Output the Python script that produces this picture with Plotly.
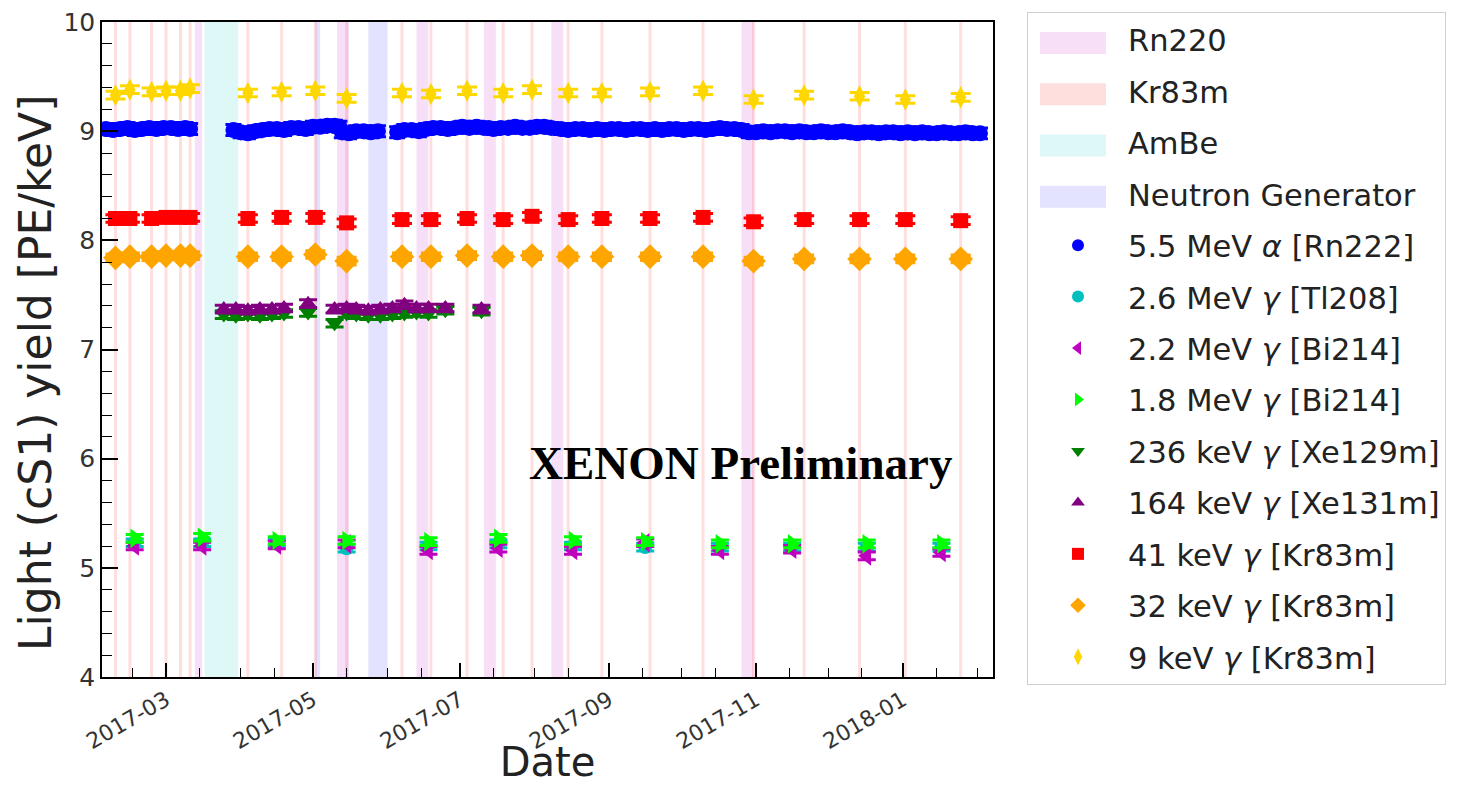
import pandas as pd
import plotly.graph_objects as go

# ---------------- calibration campaigns ----------------
rn220_periods = [("2017-03-13", "2017-03-16"), ("2017-05-11", "2017-05-16"),
                 ("2017-06-13", "2017-06-18"), ("2017-07-11", "2017-07-16"),
                 ("2017-08-08", "2017-08-13"), ("2017-10-26", "2017-10-31")]
ambe_periods = [("2017-03-17", "2017-03-31")]
ng_periods = [("2017-05-02", "2017-05-04"), ("2017-05-24", "2017-06-01")]
kr83m_dates = ["2017-02-08", "2017-02-14", "2017-02-23", "2017-03-01", "2017-03-07",
               "2017-03-11", "2017-04-04", "2017-04-18", "2017-05-02", "2017-05-15",
               "2017-06-07", "2017-06-19", "2017-07-04", "2017-07-19", "2017-07-31",
               "2017-08-15", "2017-08-29", "2017-09-18", "2017-10-10", "2017-10-31",
               "2017-11-21", "2017-12-14", "2018-01-02", "2018-01-25"]

# ---------------- Kr83m lines (measured at each Kr83m calibration) ----------------
kr_9kev = [9.33, 9.38, 9.36, 9.37, 9.37, 9.39, 9.35, 9.36, 9.37, 9.30, 9.35, 9.34,
           9.37, 9.35, 9.38, 9.35, 9.35, 9.36, 9.37, 9.29, 9.33, 9.32, 9.29, 9.31]
kr_41kev = [8.20, 8.20, 8.20, 8.21, 8.21, 8.21, 8.20, 8.21, 8.21, 8.16, 8.19, 8.19,
            8.20, 8.19, 8.22, 8.19, 8.20, 8.20, 8.21, 8.17, 8.19, 8.19, 8.19, 8.18]
kr_32kev = [7.84, 7.85, 7.85, 7.86, 7.86, 7.86, 7.85, 7.85, 7.87, 7.81, 7.85, 7.85,
            7.86, 7.85, 7.86, 7.85, 7.85, 7.85, 7.85, 7.81, 7.83, 7.83, 7.83, 7.83]

# ---------------- Rn222 alpha line ----------------
rn222_dates = [
    "2017-02-04", "2017-02-07", "2017-02-10", "2017-02-13", "2017-02-16", "2017-02-19",
    "2017-02-22", "2017-02-25", "2017-02-28", "2017-03-03", "2017-03-06", "2017-03-09",
    "2017-03-11", None,
    "2017-03-29", "2017-04-01", "2017-04-04", "2017-04-07", "2017-04-10", "2017-04-13",
    "2017-04-16", "2017-04-19", "2017-04-22", "2017-04-25", "2017-04-28", "2017-05-01",
    "2017-05-04", "2017-05-07", "2017-05-10", "2017-05-12",
    "2017-05-13", "2017-05-16", "2017-05-19", "2017-05-22", "2017-05-25", "2017-05-28",
    "2017-06-05", "2017-06-08", "2017-06-11", "2017-06-14",
    "2017-06-17", "2017-06-20", "2017-06-23", "2017-06-26", "2017-06-29", "2017-07-02",
    "2017-07-05", "2017-07-08", "2017-07-11", "2017-07-13",
    "2017-07-15", "2017-07-18", "2017-07-21", "2017-07-24", "2017-07-27", "2017-07-30",
    "2017-08-02", "2017-08-05", "2017-08-08",
    "2017-08-12", "2017-08-15", "2017-08-18", "2017-08-21", "2017-08-24", "2017-08-27",
    "2017-08-30", "2017-09-02", "2017-09-05", "2017-09-08", "2017-09-11", "2017-09-14",
    "2017-09-17", "2017-09-20", "2017-09-23", "2017-09-26", "2017-09-29", "2017-10-02",
    "2017-10-05", "2017-10-08", "2017-10-11", "2017-10-14", "2017-10-17", "2017-10-20",
    "2017-10-23", "2017-10-26",
    "2017-10-29", "2017-11-01", "2017-11-04", "2017-11-07", "2017-11-10", "2017-11-13",
    "2017-11-16", "2017-11-19", "2017-11-22", "2017-11-25", "2017-11-28", "2017-12-01",
    "2017-12-04", "2017-12-07", "2017-12-10", "2017-12-13", "2017-12-16", "2017-12-19",
    "2017-12-22", "2017-12-25", "2017-12-28", "2017-12-31", "2018-01-03", "2018-01-06",
    "2018-01-09", "2018-01-12", "2018-01-15", "2018-01-18", "2018-01-21", "2018-01-24",
    "2018-01-27", "2018-01-30", "2018-02-02"]
rn222_vals = [
    9.02, 9.01, 9.02, 9.03, 9.01, 9.02, 9.03, 9.02, 9.03, 9.03, 9.02, 9.03, 9.02, None,
    9.01, 8.99, 8.98, 9.00, 9.01, 9.02, 9.02, 9.01, 9.03, 9.03, 9.02, 9.04, 9.04, 9.05,
    9.05, 9.04,
    8.99, 8.98, 9.00, 9.00, 8.99, 9.00,
    8.99, 9.01, 9.01, 9.00,
    9.02, 9.03, 9.03, 9.02, 9.03, 9.04, 9.03, 9.04, 9.03, 9.03,
    9.02, 9.03, 9.03, 9.04, 9.03, 9.03, 9.04, 9.04, 9.03,
    9.02, 9.01, 9.02, 9.02, 9.01, 9.02, 9.01, 9.02, 9.02, 9.01, 9.02, 9.02, 9.01, 9.02,
    9.01, 9.02, 9.02, 9.01, 9.02, 9.02, 9.01, 9.02, 9.03, 9.02, 9.02, 9.01,
    8.99, 8.99, 9.00, 8.99, 9.00, 9.00, 8.99, 9.00, 8.99, 8.99, 9.00, 8.99, 8.99, 9.00,
    8.99, 8.98, 8.99, 8.99, 8.98, 8.99, 8.99, 8.98, 8.99, 8.98, 8.99, 8.98, 8.98, 8.99,
    8.98, 8.98, 8.99, 8.98, 8.98]

# ---------------- high-energy gamma lines ----------------
he_dates = ["2017-02-16", "2017-03-16", "2017-04-16", "2017-05-15", "2017-06-18",
            "2017-07-17", "2017-08-17", "2017-09-16", "2017-10-17", "2017-11-16",
            "2017-12-17", "2018-01-17"]
tl208_26mev = [5.23, 5.23, 5.23, 5.18, 5.20, 5.22, 5.20, 5.19, 5.19, 5.19, 5.19, 5.19]
bi214_22mev = [5.20, 5.20, 5.21, 5.22, 5.16, 5.18, 5.16, 5.23, 5.16, 5.17, 5.11, 5.14]
bi214_18mev = [5.27, 5.28, 5.25, 5.25, 5.24, 5.27, 5.25, 5.24, 5.22, 5.22, 5.22, 5.22]

# ---------------- activated xenon lines ----------------
xe_dates = ["2017-03-25", "2017-03-30", "2017-04-04", "2017-04-09", "2017-04-14",
            "2017-04-19", "2017-04-29", "2017-05-10", "2017-05-15", "2017-05-19",
            "2017-05-24", "2017-05-29", "2017-06-03", "2017-06-08", "2017-06-13",
            "2017-06-18", "2017-06-25", "2017-07-10"]
xe129m_236kev = [7.32, 7.31, 7.32, 7.31, 7.32, 7.33, 7.34, 7.24, 7.33, 7.32, 7.31,
                 7.31, 7.32, 7.33, 7.34, 7.33, 7.36, 7.35]
xe131m_164kev = [7.37, 7.37, 7.36, 7.37, 7.37, 7.38, 7.42, 7.37, 7.38, 7.37, 7.36,
                 7.37, 7.38, 7.41, 7.38, 7.38, 7.38, 7.37]

# statistical uncertainties (PE/keV)
err_rn222 = 0.05
err_line = 0.035

Y_MIN, Y_MAX = 4, 10
major_ticks = ["2017-03-01", "2017-05-01", "2017-07-01", "2017-09-01", "2017-11-01", "2018-01-01"]

# band colours
C_RN220 = "rgba(191,0,191,0.12)"
C_KR83M = "rgba(255,0,0,0.13)"
C_AMBE = "rgba(0,191,191,0.13)"
C_NG = "rgba(0,0,255,0.11)"

# figure geometry (px)
W, H = 1460, 785
M_L, M_R, M_T, M_B = 102, 467, 20, 108
PW, PH = W - M_L - M_R, H - M_T - M_B

# legend box geometry (px)
LEG_LEFT, LEG_TOP = 1027, 10
LEG_ROW0, LEG_ROW_STEP = 41, 51.4


def px_x(px):
    return (px - M_L) / PW


def px_y(py):
    return (H - M_B - py) / PH


fig = go.Figure()

# calibration bands, drawn as vertical spans on the date axis
kr_periods = [(pd.Timestamp(d) - pd.Timedelta(hours=15), pd.Timestamp(d) + pd.Timedelta(hours=15))
              for d in kr83m_dates]
for periods, color in [(kr_periods, C_KR83M), (rn220_periods, C_RN220),
                       (ambe_periods, C_AMBE), (ng_periods, C_NG)]:
    for x0, x1 in periods:
        fig.add_shape(type="rect", xref="x", yref="y", x0=x0, x1=x1, y0=Y_MIN, y1=Y_MAX,
                      fillcolor=color, line=dict(width=0), layer="below")

# legend entries for the bands (patches drawn next to them)
band_names = ["Rn220", "Kr83m", "AmBe", "Neutron Generator"]
band_colors = [C_RN220, C_KR83M, C_AMBE, C_NG]
for name in band_names:
    fig.add_trace(go.Scatter(x=[None], y=[None], mode="markers", name=name, legendgroup=name,
                             marker=dict(color="rgba(0,0,0,0)", size=1)))


def line_trace(x, y, name, color, symbol, size, err, cap):
    return go.Scatter(
        x=x, y=y, mode="markers", name=name, legendgroup=name,
        marker=dict(color=color, symbol=symbol, size=size, line=dict(width=0)),
        error_y=dict(type="constant", value=err, color=color, thickness=3, width=cap),
    )


fig.add_trace(line_trace(rn222_dates, rn222_vals, "5.5 MeV <i>α</i> [Rn222]", "#0000ff", "circle", 16, err_rn222, 8))
fig.add_trace(line_trace(he_dates, tl208_26mev, "2.6 MeV <i>γ</i> [Tl208]", "#00bfbf", "circle", 14, err_line, 9))
fig.add_trace(line_trace(he_dates, bi214_22mev, "2.2 MeV <i>γ</i> [Bi214]", "#bf00bf", "triangle-left", 17, err_line, 9))
fig.add_trace(line_trace(he_dates, bi214_18mev, "1.8 MeV <i>γ</i> [Bi214]", "#00ff00", "triangle-right", 17, err_line, 9))
fig.add_trace(line_trace(xe_dates, xe129m_236kev, "236 keV <i>γ</i> [Xe129m]", "#008000", "triangle-down", 16, err_line, 9))
fig.add_trace(line_trace(xe_dates, xe131m_164kev, "164 keV <i>γ</i> [Xe131m]", "#800080", "triangle-up", 16, err_line, 9))
fig.add_trace(line_trace(kr83m_dates, kr_41kev, "41 keV <i>γ</i> [Kr83m]", "#ff0000", "square", 15, err_line, 10))
fig.add_trace(line_trace(kr83m_dates, kr_32kev, "32 keV <i>γ</i> [Kr83m]", "#ffa500", "diamond", 19, err_line, 10))
fig.add_trace(line_trace(kr83m_dates, kr_9kev, "9 keV <i>γ</i> [Kr83m]", "#ffd700", "diamond-tall", 16, err_line, 10))

minor_x = [d.strftime("%Y-%m-%d") for d in pd.date_range("2017-02-01", "2018-02-28", freq="SMS")]

fig.update_xaxes(
    type="date", range=["2017-02-02 10:00", "2018-02-07 10:00"],
    tickmode="array", tickvals=major_ticks, tickformat="%Y-%m", tickangle=-30,
    ticks="inside", ticklen=14, tickwidth=1.6, tickcolor="black",
    tickfont=dict(family="DejaVu Sans", size=22, color="#333"),
    minor=dict(tickmode="array", tickvals=minor_x, ticks="inside", ticklen=9,
               tickwidth=1.2, tickcolor="black", showgrid=False),
    showline=True, linecolor="black", linewidth=1.6, mirror=True,
    showgrid=False, zeroline=False,
    title=dict(text="Date", font=dict(family="DejaVu Sans", size=40, color="#222"), standoff=0),
    automargin=False,
)
fig.update_yaxes(
    range=[Y_MIN, Y_MAX], tickmode="linear", tick0=4, dtick=1,
    ticks="inside", ticklen=16, tickwidth=1.6, tickcolor="black",
    tickfont=dict(family="DejaVu Sans", size=25, color="#333"),
    minor=dict(dtick=0.2, ticks="inside", ticklen=10, tickwidth=1.2, tickcolor="black", showgrid=False),
    showline=True, linecolor="black", linewidth=1.6, mirror=True,
    showgrid=False, zeroline=False,
    automargin=False,
)

# y-axis label
fig.add_annotation(
    text="Light (cS1) yield [PE/keV]", xref="paper", yref="paper",
    x=px_x(36), y=px_y(372), xanchor="center", yanchor="middle", textangle=-90,
    showarrow=False, font=dict(family="DejaVu Sans", size=44, color="#222"),
)

fig.add_annotation(
    text="<b>XENON Preliminary</b>", xref="paper", yref="paper", x=0.717, y=0.326,
    xanchor="center", yanchor="middle", showarrow=False,
    font=dict(family="Liberation Serif", size=47, color="black"),
)

# colour patches for the band entries of the legend
for i, color in enumerate(band_colors):
    row_y = LEG_ROW0 + i * LEG_ROW_STEP
    fig.add_shape(type="rect", xref="paper", yref="paper", layer="above",
                  x0=px_x(1040), x1=px_x(1106), y0=px_y(row_y + 11), y1=px_y(row_y - 11),
                  fillcolor=color, line=dict(width=0))

fig.update_layout(
    width=W, height=H,
    margin=dict(l=M_L, r=M_R, t=M_T, b=M_B),
    paper_bgcolor="white", plot_bgcolor="white",
    showlegend=True,
    legend=dict(
        x=px_x(LEG_LEFT), y=px_y(LEG_TOP), xanchor="left", yanchor="top",
        font=dict(family="DejaVu Sans", size=30.5, color="#222"),
        bordercolor="#cfcfcf", borderwidth=1, bgcolor="rgba(0,0,0,0)",
        itemwidth=90, tracegroupgap=8.8, itemsizing="constant", maxheight=0.97,
    ),
)

fig.write_html("out.html")
